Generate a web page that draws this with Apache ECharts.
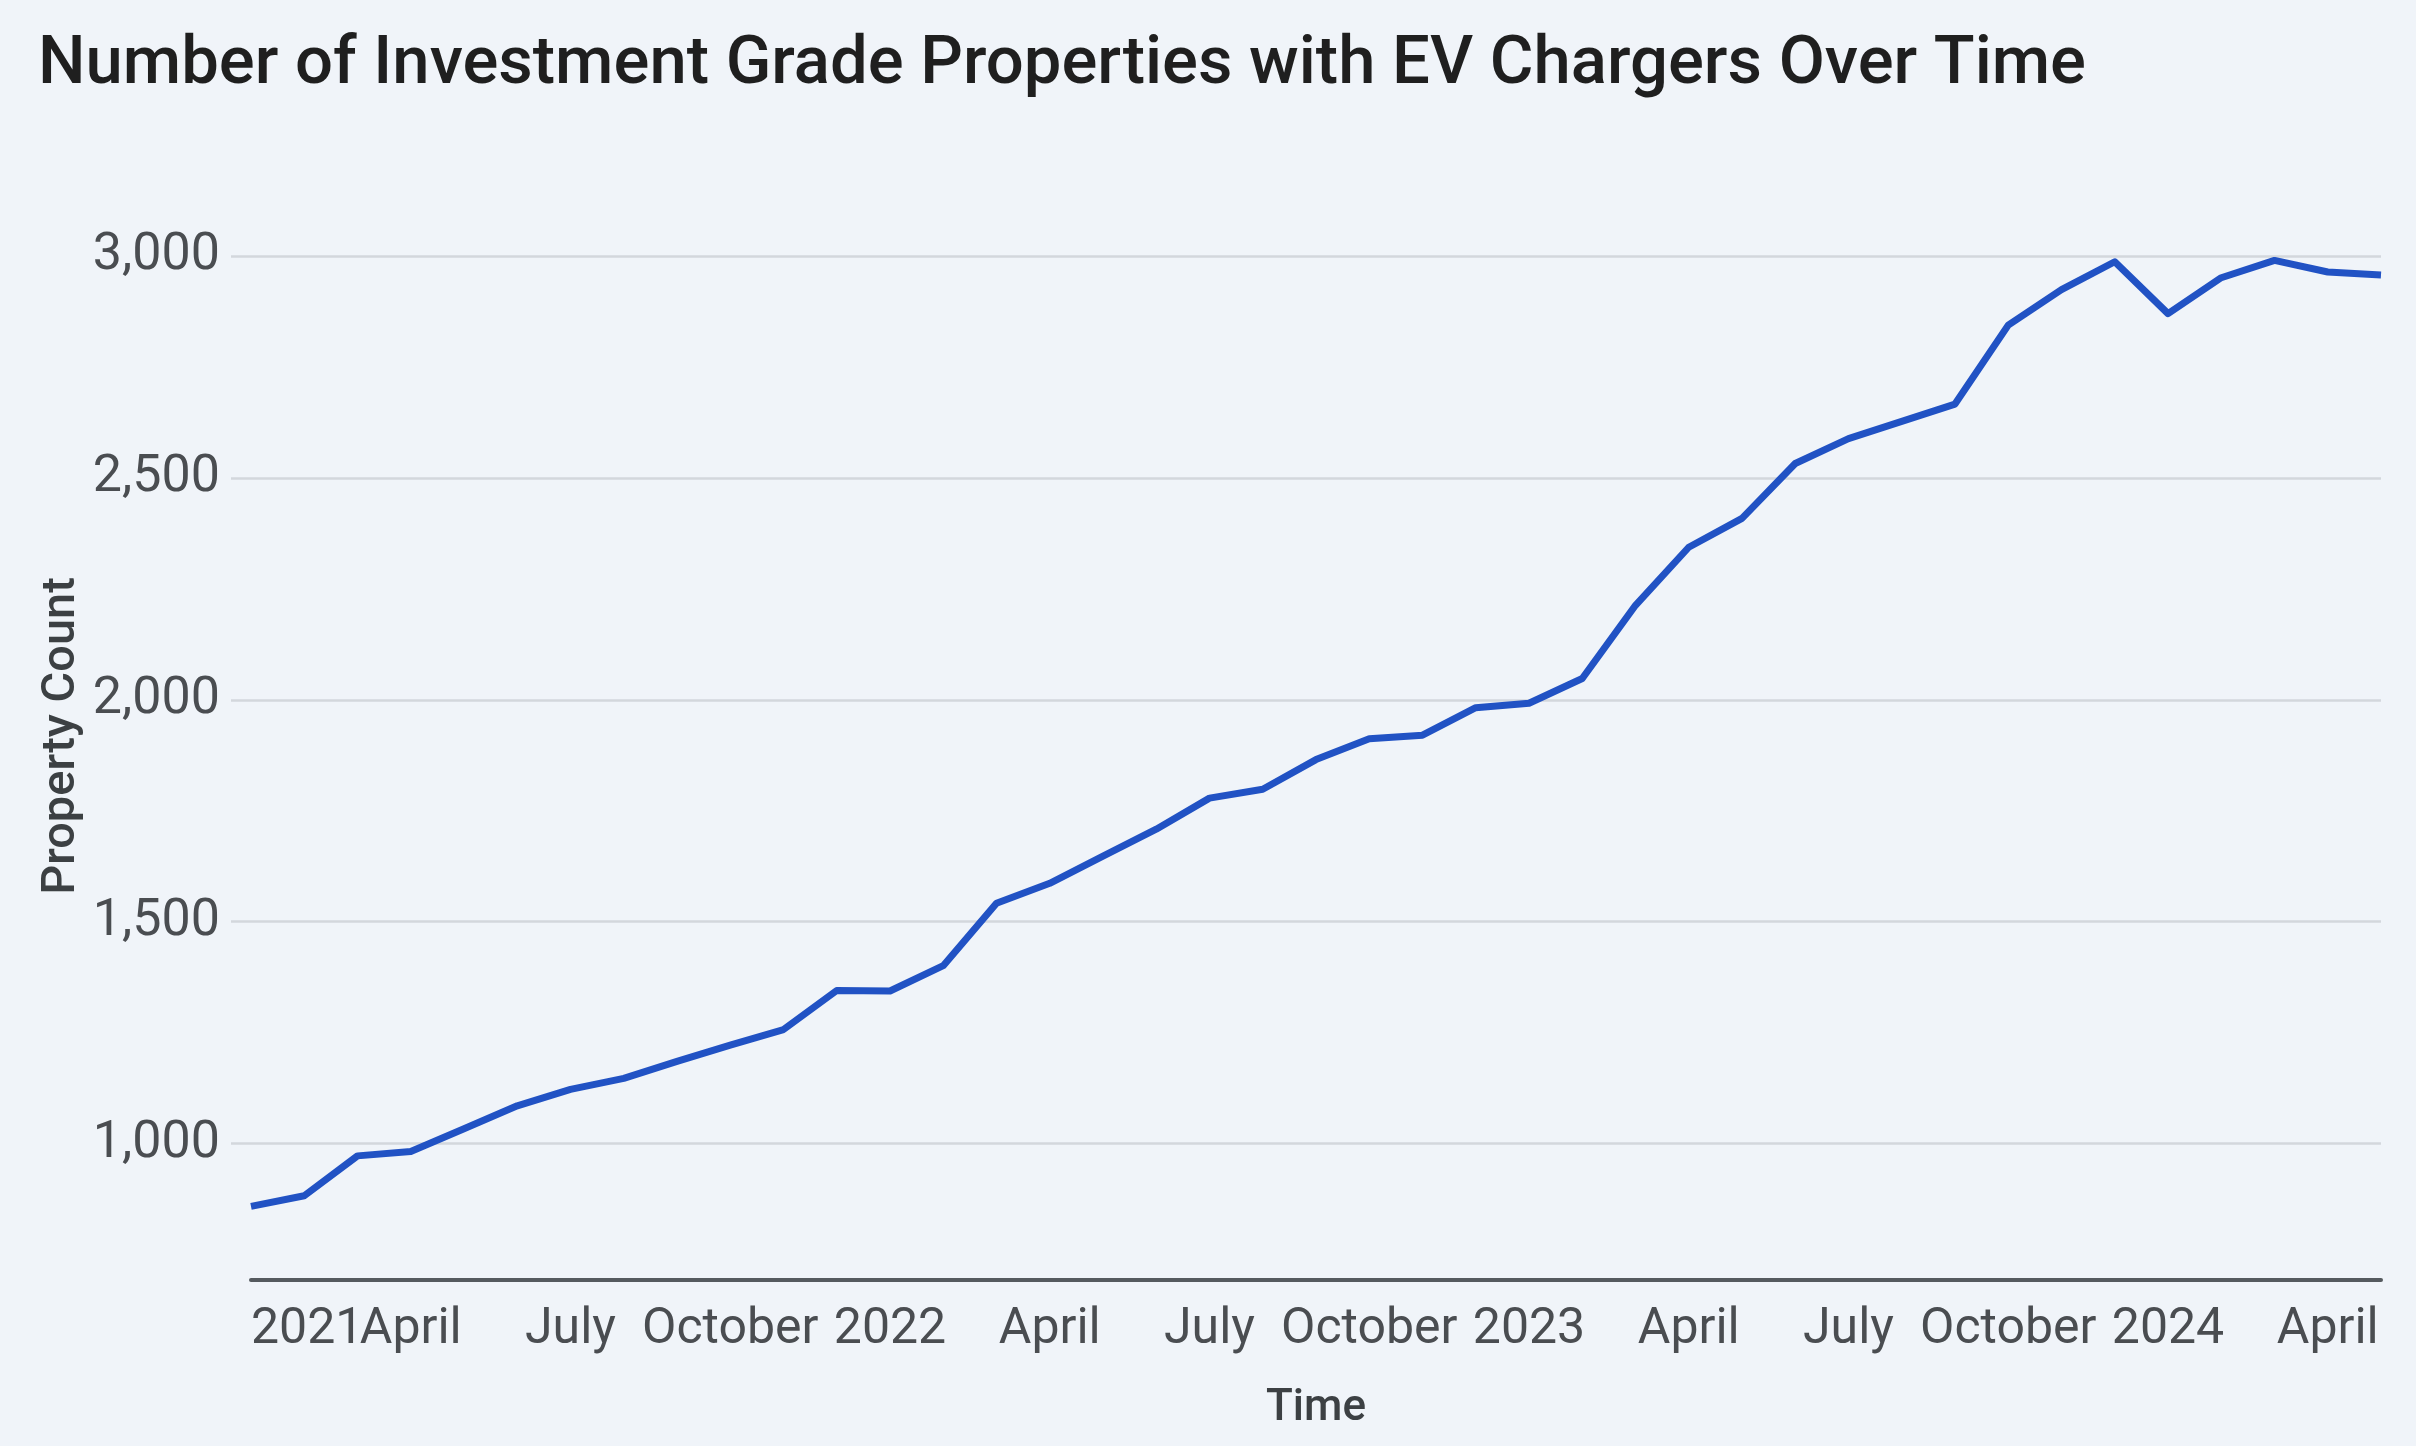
<!DOCTYPE html>
<html>
<head>
<meta charset="utf-8">
<script src="https://cdn.jsdelivr.net/npm/echarts@6/dist/echarts.min.js"></script>
<style>
  html, body { margin: 0; padding: 0; background: #f0f4f9; }
  #chart { width: 2416px; height: 1446px; }
</style>
</head>
<body>
<div id="chart"></div>
<script>
const categories = [
  '2021-01','2021-02','2021-03','2021-04','2021-05','2021-06','2021-07','2021-08','2021-09','2021-10','2021-11','2021-12',
  '2022-01','2022-02','2022-03','2022-04','2022-05','2022-06','2022-07','2022-08','2022-09','2022-10','2022-11','2022-12',
  '2023-01','2023-02','2023-03','2023-04','2023-05','2023-06','2023-07','2023-08','2023-09','2023-10','2023-11','2023-12',
  '2024-01','2024-02','2024-03','2024-04','2024-05'
];
const propertyCount = [
  856, 880, 970, 980, 1031, 1083, 1120, 1145, 1183, 1220, 1255, 1343,
  1342, 1399, 1540, 1585, 1646, 1707, 1777, 1797, 1864, 1911, 1919, 1981,
  1991, 2047, 2212, 2343, 2408, 2532, 2588, 2627, 2666, 2844, 2924, 2987,
  2870, 2951, 2990, 2964, 2957
];
const monthTickLabels = { '04': 'April', '07': 'July', '10': 'October' };
const yTickValues = [1000, 1500, 2000, 2500, 3000];

const FONT = 'Roboto';
const LABEL_SIZE = 50;
const LABEL_COLOR = '#4a4d51';

function tickText(v) {
  const parts = v.split('-');
  return parts[1] === '01' ? parts[0] : (monthTickLabels[parts[1]] || '');
}

const chart = echarts.init(document.getElementById('chart'), null, { renderer: 'canvas' });

chart.setOption({
  backgroundColor: '#f0f4f9',
  animation: false,
  title: {
    text: 'Number of Investment Grade Properties with EV Chargers Over Time',
    left: 33,
    top: 28,
    textStyle: { fontFamily: FONT, fontSize: 67, fontWeight: 500, color: '#1f1f1f' }
  },
  grid: [
    { left: 231, right: 35, top: 256, bottom: 80.5 },
    { left: 251, right: 35, top: 256, bottom: 166 }
  ],
  xAxis: [
    { type: 'value', gridIndex: 0, show: false, min: 0, max: 1 },
    {
      type: 'category',
      gridIndex: 1,
      data: categories,
      boundaryGap: false,
      axisLine: { show: true, lineStyle: { color: '#555a5f', width: 4 } },
      axisTick: { show: false },
      axisLabel: {
        interval: 2,
        margin: 25,
        showMinLabel: false,
        fontFamily: FONT,
        fontSize: LABEL_SIZE,
        color: LABEL_COLOR,
        formatter: tickText
      },
      name: 'Time',
      nameLocation: 'middle',
      nameGap: 107,
      nameTextStyle: { fontFamily: FONT, fontSize: 44, fontWeight: 500, color: '#3c4043' }
    },
    {
      type: 'category',
      gridIndex: 1,
      position: 'bottom',
      data: categories,
      boundaryGap: false,
      axisLine: { show: false },
      axisTick: { show: false },
      splitLine: { show: false },
      axisLabel: {
        interval: function (idx) { return idx === 0; },
        align: 'left',
        margin: 25,
        fontFamily: FONT,
        fontSize: LABEL_SIZE,
        color: LABEL_COLOR,
        formatter: tickText
      }
    }
  ],
  yAxis: [
    {
      type: 'value',
      gridIndex: 0,
      min: 500,
      max: 3000,
      interval: 500,
      axisLine: { show: false },
      axisTick: { show: false },
      splitLine: { show: true, showMinLine: false, lineStyle: { color: '#d3d7dc', width: 2.5 } },
      axisLabel: {
        showMinLabel: false,
        margin: 11,
        fontFamily: FONT,
        fontSize: 52,
        color: LABEL_COLOR,
        formatter: function (v) { return yTickValues.indexOf(v) >= 0 ? v.toLocaleString('en-US') : ''; }
      }
    },
    { type: 'value', gridIndex: 1, min: 690, max: 3000, show: false }
  ],
  graphic: [
    {
      type: 'text',
      x: 62,
      y: 736,
      rotation: Math.PI / 2,
      style: {
        text: 'Property Count',
        fontFamily: FONT,
        fontSize: 47,
        fontWeight: 500,
        fill: '#3c4043',
        align: 'center',
        verticalAlign: 'middle'
      }
    }
  ],
  series: [
    {
      type: 'line',
      xAxisIndex: 1,
      yAxisIndex: 1,
      data: propertyCount,
      showSymbol: false,
      symbol: 'none',
      lineStyle: { color: '#2152c4', width: 7, join: 'round' },
      clip: false
    }
  ]
});
</script>
</body>
</html>
